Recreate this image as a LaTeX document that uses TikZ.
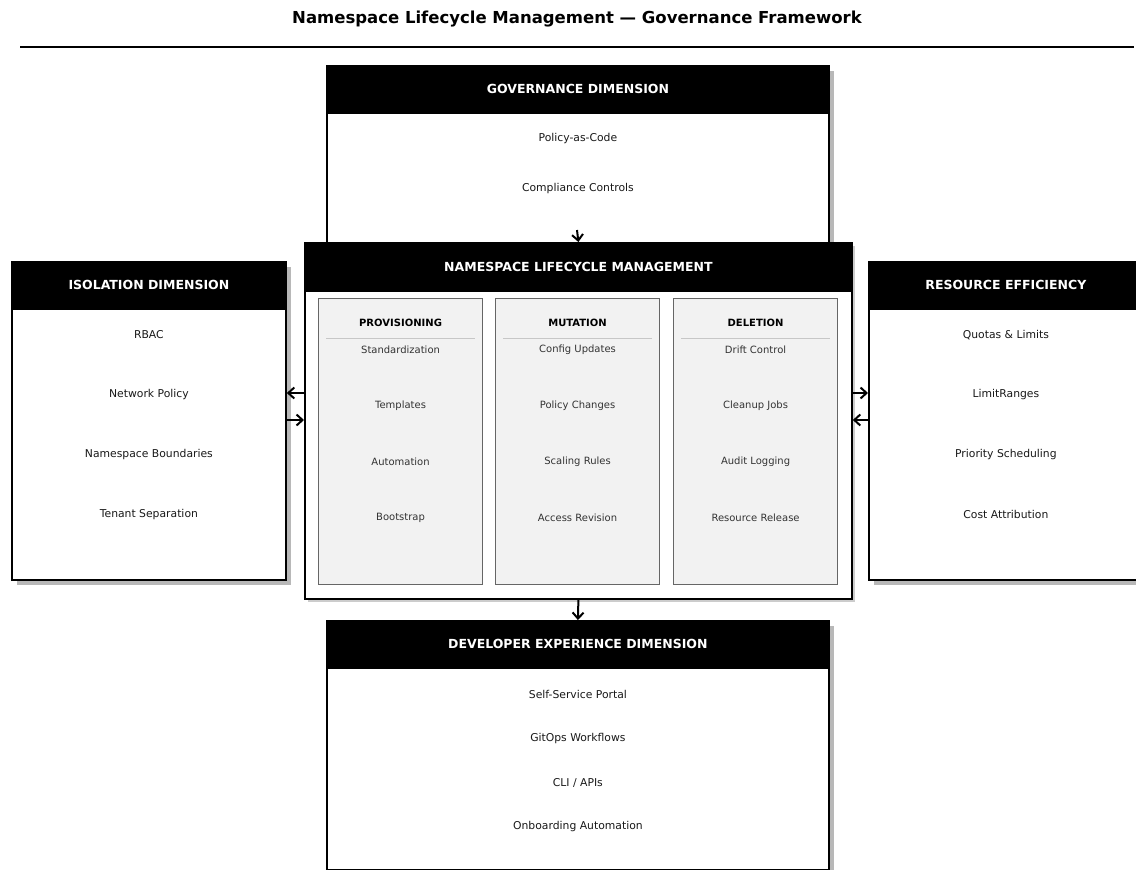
\documentclass[tikz,border=0pt]{standalone}
\usepackage{fontspec}
\setmainfont{DejaVu Sans}
\usetikzlibrary{arrows.meta, positioning, calc, shadows}

\begin{document}
\begin{tikzpicture}[
      x=1pt, y=-1pt,
      dimbox/.style={draw, line width=1.8pt, fill=white, anchor=north west, inner sep=0,
                     drop shadow={shadow xshift=5pt, shadow yshift=-5pt, fill=black!28, opacity=1}},
      corebox/.style={draw, line width=1.8pt, fill=white, anchor=north west, inner sep=0,
                      drop shadow={shadow xshift=3pt, shadow yshift=-3pt, fill=black!20, opacity=1}},
      dimhead/.style={draw, line width=1.8pt, fill=black, text=white, anchor=north west,
                      inner sep=0, minimum height=47pt, font=\fontsize{12.5}{14}\selectfont\bfseries},
      panel/.style={draw=black!60, line width=1.1pt, fill=black!5, anchor=north west, inner sep=0,
                    minimum width=164pt, minimum height=286pt},
      ptitle/.style={font=\fontsize{10}{12}\selectfont\bfseries},
      pitem/.style={text=black!80, font=\fontsize{10}{12}\selectfont},
      item/.style={text=black!90, font=\fontsize{10.8}{13}\selectfont},
      sep/.style={draw=black!22, line width=0.8pt},
      arr/.style={-{Straight Barb[length=6pt, width=11pt]}, line width=2pt},
    ]
    \clip (0,0) rectangle (1136,870);

    % ---- title ----
    \node[font=\fontsize{16.5}{19}\selectfont\bfseries] (title) at (577,19)
      {Namespace Lifecycle Management — Governance Framework};
    \draw[line width=1.5pt] (20,47) -- (1134,47);

    % ---- TOP: governance ----
    \node[dimbox, minimum width=502pt, minimum height=249pt] (gov) at (326,65) {};
    \node[dimhead, minimum width=502pt] (govhead) at (gov.north west) {GOVERNANCE DIMENSION};
    \foreach \txt [count=\i] in {Policy-as-Code, Compliance Controls} {
      \node[item] (gov-\i) at ($(gov.north)+(0,{74+(\i-1)*50})$) {\txt};
    }
    \coordinate (govout) at (577,230);

    % ---- LEFT: isolation ----
    \node[dimbox, minimum width=274pt, minimum height=318pt] (iso) at (11,261) {};
    \node[dimhead, minimum width=274pt] (isohead) at (iso.north west) {ISOLATION DIMENSION};
    \foreach \txt [count=\i] in {RBAC, Network Policy, Namespace Boundaries, Tenant Separation} {
      \node[item] (iso-\i) at ($(iso.north)+(0,{74+(\i-1)*59.7})$) {\txt};
    }

    % ---- RIGHT: resource efficiency ----
    \node[dimbox, minimum width=274pt, minimum height=318pt] (res) at (868,261) {};
    \node[dimhead, minimum width=274pt] (reshead) at (res.north west) {RESOURCE EFFICIENCY};
    \foreach \txt [count=\i] in {Quotas \& Limits, LimitRanges, Priority Scheduling, Cost Attribution} {
      \node[item] (res-\i) at ($(res.north)+(0,{74+(\i-1)*59.7})$) {\txt};
    }

    % ---- BOTTOM: developer experience ----
    \node[dimbox, minimum width=502pt, minimum height=249pt] (dev) at (326,620) {};
    \node[dimhead, minimum width=502pt] (devhead) at (dev.north west) {DEVELOPER EXPERIENCE DIMENSION};
    \foreach \txt [count=\i] in {Self-Service Portal, GitOps Workflows, CLI / APIs, Onboarding Automation} {
      \node[item] (dev-\i) at ($(dev.north)+(0,{74+(\i-1)*44.3})$) {\txt};
    }

    % ---- CENTRE: lifecycle ----
    \node[corebox, minimum width=547pt, minimum height=356pt] (core) at (304,242) {};
    \node[dimhead, minimum width=547pt, minimum height=48pt] (corehead) at (core.north west)
      {NAMESPACE LIFECYCLE MANAGEMENT};

    \foreach \name/\x/\title/\a/\b/\c/\d in {
        prov/318/PROVISIONING/Standardization/Templates/Automation/Bootstrap,
        mut/495/MUTATION/Config Updates/Policy Changes/Scaling Rules/Access Revision,
        del/673/DELETION/Drift Control/Cleanup Jobs/Audit Logging/Resource Release} {
      \node[panel] (\name) at (\x,298) {};
      \node[ptitle] (\name-t) at ($(\name.north)+(0,25)$) {\title};
      \draw[sep] ($(\name.north west)+(8,40)$) -- ($(\name.north east)+(-8,40)$);
      \foreach \txt [count=\i] in {\a,\b,\c,\d} {
        \node[pitem] (\name-\i) at ($(\name.north)+(0,{52+(\i-1)*56})$) {\txt};
      }
    }

    % ---- connectors ----
    \draw[arr] (govout) -- (core.north);
    \draw[arr] (core.south) -- (dev.north);
    \draw[arr] ([yshift=-151pt]core.north west) -- ([yshift=-132pt]iso.north east);
    \draw[arr] ([yshift=-159pt]iso.north east) -- ([yshift=-178pt]core.north west);
    \draw[arr] ([yshift=-151pt]core.north east) -- ([yshift=-132pt]res.north west);
    \draw[arr] ([yshift=-159pt]res.north west) -- ([yshift=-178pt]core.north east);

  \end{tikzpicture}
\end{document}
